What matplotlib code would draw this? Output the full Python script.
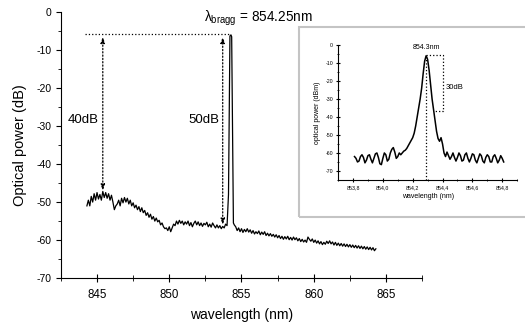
import numpy as np
import matplotlib.pyplot as plt
from matplotlib import rcParams
from matplotlib.patches import Rectangle
from matplotlib.ticker import MultipleLocator, FuncFormatter

rcParams['font.family'] = ['Liberation Sans', 'DejaVu Sans']
rcParams['mathtext.fontset'] = 'custom'
rcParams['mathtext.rm'] = 'Liberation Sans'
rcParams['mathtext.it'] = 'Liberation Sans'
rcParams['axes.unicode_minus'] = False

# main spectrum, left of the bragg peak (844.3 .. 854.0 nm, 0.1 nm step)
p_left = [-51.0, -49.5, -51.0, -48.5, -50.0, -47.8, -49.5, -47.5, -49.2, -48.0,
          -49.5, -47.2, -48.8, -47.5, -49.0, -47.8, -49.5, -48.2, -50.0, -52.0,
          -51.0, -50.5, -49.5, -51.0, -49.0, -50.2, -48.8, -50.0, -49.0, -50.5,
          -49.5, -51.0, -50.2, -51.5, -50.8, -52.0, -51.2, -52.5, -51.5, -52.8,
          -52.2, -53.5, -52.8, -54.0, -53.2, -54.5, -53.8, -55.0, -54.2, -55.2,
          -54.8, -56.0, -55.5, -56.5, -57.0, -56.8, -57.5, -56.5, -57.8, -56.8,
          -55.8, -56.2, -55.0, -55.8, -54.8, -55.6, -55.0, -56.0, -55.2, -55.8,
          -55.0, -56.2, -55.4, -56.5, -55.6, -55.0, -56.0, -55.2, -56.2, -55.5,
          -56.4, -55.6, -56.0, -55.3, -56.5, -55.8, -56.6, -55.5, -56.2, -56.8,
          -56.0, -56.8, -56.2, -57.0, -56.4, -56.8, -55.8, -56.2]
wl_left = np.linspace(844.3, 854.0, len(p_left))

# the bragg peak itself
wl_peak = [854.1, 854.2, 854.27, 854.32, 854.44]
p_peak = [-48.0, -6.3, -6.0, -6.5, -55.5]

# right of the peak (854.5 .. 864.3 nm, 0.1 nm step)
p_right = [-56.0, -56.5, -57.5, -56.8, -57.8, -57.0, -58.0, -57.2, -57.8, -57.0,
           -57.9, -57.3, -58.2, -57.5, -58.4, -57.8, -58.3, -57.6, -58.6, -57.9,
           -58.5, -57.8, -58.8, -58.2, -58.9, -58.3, -59.0, -58.5, -59.2, -58.6,
           -59.4, -58.8, -59.6, -59.0, -59.8, -59.1, -59.7, -59.0, -59.9, -59.3,
           -60.0, -59.2, -59.9, -59.4, -60.2, -59.6, -60.4, -59.8, -60.5, -60.0,
           -60.6, -59.2, -59.8, -60.3, -59.7, -60.6, -60.0, -60.8, -60.2, -61.0,
           -60.4, -61.2, -60.6, -61.1, -60.3, -60.9, -60.2, -61.0, -60.5, -61.3,
           -60.6, -61.4, -60.8, -61.5, -60.9, -61.6, -61.0, -61.7, -61.1, -61.8,
           -61.2, -61.9, -61.3, -62.0, -61.4, -62.1, -61.5, -62.2, -61.6, -62.3,
           -61.7, -62.4, -61.8, -62.5, -61.9, -62.6, -62.0, -62.8, -62.3]
wl_right = np.linspace(854.5, 864.3, len(p_right))

wl_main = np.concatenate([wl_left, wl_peak, wl_right])
p_main = np.concatenate([p_left, p_peak, p_right])

# high resolution inset (853.81 .. 854.81 nm, 0.01 nm step)
p_inset = [-62.0, -63.0, -65.0, -64.5, -62.0, -61.0, -62.5, -65.5, -64.0, -61.5,
           -61.0, -63.5, -65.5, -63.0, -60.5, -60.0, -62.5, -66.0, -66.5, -63.0,
           -60.0, -61.0, -64.5, -63.5, -60.0, -58.0, -57.0, -59.5, -63.0, -62.0,
           -60.0, -61.0, -60.0, -59.0, -58.5, -57.5, -56.0, -54.5, -53.0, -51.5,
           -49.0, -45.0, -40.0, -35.0, -30.0, -24.0, -16.0, -9.0, -6.0, -8.0,
           -14.0, -22.0, -30.0, -36.0, -42.0, -48.0, -52.0, -53.5, -51.5, -55.0,
           -60.0, -62.0, -59.5, -61.5, -63.5, -62.0, -60.0, -62.5, -64.5, -62.5,
           -60.0, -61.5, -64.5, -64.0, -61.0, -60.0, -63.0, -65.0, -63.0, -60.5,
           -61.0, -64.0, -65.5, -63.0, -60.5, -61.5, -64.5, -65.5, -62.5, -61.0,
           -62.0, -65.0, -65.0, -62.0, -61.0, -63.0, -65.5, -64.0, -61.5, -63.0,
           -65.0]
wl_inset = np.linspace(853.81, 854.81, len(p_inset))

fig = plt.figure(figsize=(5.25, 3.26), dpi=100)
ax = fig.add_axes([0.116, 0.147, 0.688, 0.816])

ax.plot(wl_main, p_main, color='black', lw=0.9)
ax.set_xlim(842.5, 867.5)
ax.set_ylim(-70, 0)
ax.xaxis.set_major_locator(MultipleLocator(5))
ax.xaxis.set_minor_locator(MultipleLocator(2.5))
ax.yaxis.set_major_locator(MultipleLocator(10))
ax.yaxis.set_minor_locator(MultipleLocator(5))
for s in ['top', 'right']:
    ax.spines[s].set_visible(False)
ax.tick_params(axis='x', which='both', direction='inout', labelsize=8.3, pad=5)
ax.tick_params(axis='x', which='major', length=6)
ax.tick_params(axis='x', which='minor', length=4)
ax.tick_params(axis='y', which='both', direction='out', labelsize=7.5)
ax.tick_params(axis='y', which='major', length=3.5)
ax.tick_params(axis='y', which='minor', length=2)
ax.set_xlabel('wavelength (nm)', fontsize=10, labelpad=5)
ax.set_ylabel('Optical power (dB)', fontsize=10.5)
ax.yaxis.set_label_coords(-0.095, 0.5)

# dB markers
ax.plot([844.2, 854.2], [-5.7, -5.7], color='black', ls=':', lw=0.9)
arr = dict(arrowstyle='<|-|>,head_length=0.35,head_width=0.12', color='black',
           ls=':', lw=0.9, shrinkA=0, shrinkB=0)
ax.annotate('', xy=(845.4, -6.5), xytext=(845.4, -47.0), arrowprops=arr)
ax.annotate('', xy=(853.7, -6.5), xytext=(853.7, -56.0), arrowprops=arr)
ax.text(845.15, -28.4, '40dB', fontsize=9.5, ha='right', va='center')
ax.text(853.45, -28.4, '50dB', fontsize=9.5, ha='right', va='center')
ax.text(852.4, -1.7, r'$\lambda_{\mathrm{bragg}}$ = 854.25nm', fontsize=9.8,
        ha='left', va='center')

# grey frame round the inset
fig.patches.append(Rectangle((0.570, 0.334), 0.5, 0.583, transform=fig.transFigure,
                             fill=False, edgecolor='#c4c4c4', lw=1.5))

axi = fig.add_axes([0.644, 0.448, 0.341, 0.414])
axi.plot(wl_inset, p_inset, color='black', lw=1.1)
axi.set_xlim(853.7, 854.9)
axi.set_ylim(-75, 0)
axi.xaxis.set_major_locator(MultipleLocator(0.2))
axi.xaxis.set_minor_locator(MultipleLocator(0.1))
axi.yaxis.set_major_locator(MultipleLocator(10))
axi.yaxis.set_minor_locator(MultipleLocator(5))
axi.xaxis.set_major_formatter(FuncFormatter(lambda v, p: f'{v:.1f}'.replace('.', ',')))
for s in ['top', 'right']:
    axi.spines[s].set_visible(False)
axi.tick_params(which='both', direction='inout', labelsize=3.8, pad=2)
axi.tick_params(which='major', length=3)
axi.tick_params(which='minor', length=1.5)
axi.set_xlabel('wavelength (nm)', fontsize=5, labelpad=2)
axi.set_ylabel('optical power (dBm)', fontsize=5, labelpad=3)

axi.plot([854.29, 854.29], [-75, -5.6], color='black', ls=':', lw=0.9)
axi.plot([854.29, 854.4, 854.4, 854.35], [-5.6, -5.6, -36.7, -36.7],
         color='black', ls=':', lw=0.9)
axi.text(854.29, -1.5, '854.3nm', fontsize=5, ha='center', va='center')
axi.text(854.42, -23.5, '30dB', fontsize=5.5, ha='left', va='center')

fig.savefig('out.png', dpi=100)
